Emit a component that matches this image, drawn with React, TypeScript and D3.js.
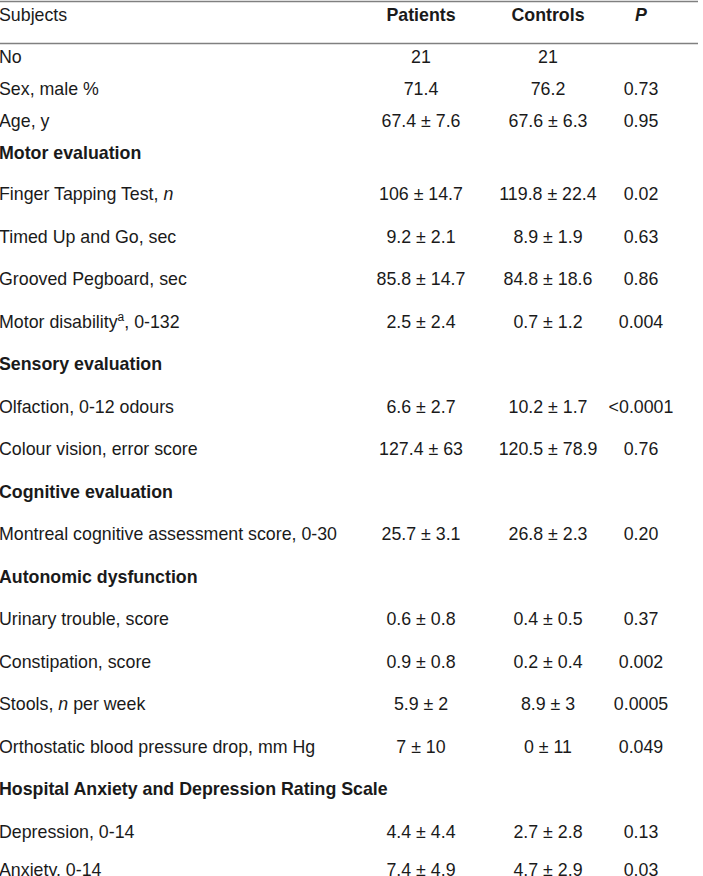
import React from "react";
import * as d3 from "d3";

const W = 703;
const H = 876;

// Row labels: |x| italic, ^x^ superscript
const rowLabels: string[] = [
  "No",
  "Sex, male %",
  "Age, y",
  "Motor evaluation",
  "Finger Tapping Test, |n|",
  "Timed Up and Go, sec",
  "Grooved Pegboard, sec",
  "Motor disability^a^, 0-132",
  "Sensory evaluation",
  "Olfaction, 0-12 odours",
  "Colour vision, error score",
  "Cognitive evaluation",
  "Montreal cognitive assessment score, 0-30",
  "Autonomic dysfunction",
  "Urinary trouble, score",
  "Constipation, score",
  "Stools, |n| per week",
  "Orthostatic blood pressure drop, mm Hg",
  "Hospital Anxiety and Depression Rating Scale",
  "Depression, 0-14",
  "Anxiety, 0-14",
];
const sectionRows: boolean[] = [
  false, false, false, true, false, false, false, false, true, false, false,
  true, false, true, false, false, false, false, true, false, false,
];
const patients: string[] = [
  "21", "71.4", "67.4 ± 7.6", "", "106 ± 14.7", "9.2 ± 2.1", "85.8 ± 14.7", "2.5 ± 2.4",
  "", "6.6 ± 2.7", "127.4 ± 63", "", "25.7 ± 3.1", "", "0.6 ± 0.8", "0.9 ± 0.8",
  "5.9 ± 2", "7 ± 10", "", "4.4 ± 4.4", "7.4 ± 4.9",
];
const controls: string[] = [
  "21", "76.2", "67.6 ± 6.3", "", "119.8 ± 22.4", "8.9 ± 1.9", "84.8 ± 18.6", "0.7 ± 1.2",
  "", "10.2 ± 1.7", "120.5 ± 78.9", "", "26.8 ± 2.3", "", "0.4 ± 0.5", "0.2 ± 0.4",
  "8.9 ± 3", "0 ± 11", "", "2.7 ± 2.8", "4.7 ± 2.9",
];
const pValues: string[] = [
  "", "0.73", "0.95", "", "0.02", "0.63", "0.86", "0.004", "", "<0.0001", "0.76", "",
  "0.20", "", "0.37", "0.002", "0.0005", "0.049", "", "0.13", "0.03",
];
const headers: string[] = ["Subjects", "Patients", "Controls", "P"];

function parseLabel(s: string) {
  const parts: { t: string; s: string }[] = [];
  const re = /(\|[^|]+\||\^[^^]+\^)/g;
  let last = 0;
  let m;
  while ((m = re.exec(s)) !== null) {
    if (m.index > last) parts.push({ t: s.slice(last, m.index), s: "" });
    const tok = m[0];
    parts.push({ t: tok.slice(1, -1), s: tok[0] === "|" ? "i" : "sup" });
    last = m.index + tok.length;
  }
  if (last < s.length) parts.push({ t: s.slice(last), s: "" });
  return parts;
}

export default function App() {
  const n = rowLabels.length;
  const y = d3
    .scaleLinear()
    .domain([0, 3, 4, n - 2, n - 1])
    .range([63, 159, 200, 838, 876]);
  const col = d3
    .scaleOrdinal<string, number>()
    .domain(["label", "patients", "controls", "p"])
    .range([-1, 421, 548, 641]);
  const font = "'Liberation Sans', Arial, sans-serif";
  const fs = 17.8;
  const fill = "#1a1a1a";

  return (
    <svg
      width={W}
      height={H}
      style={{ position: "absolute", left: 0, top: 0, background: "#fff" }}
      fontFamily={font}
      fontSize={fs}
    >
      <rect width={W} height={H} fill="#fff" />
      <line x1={0} x2={698} y1={1.5} y2={1.5} stroke="#808080" strokeWidth={1.5} />
      <line x1={0} x2={698} y1={43.5} y2={43.5} stroke="#808080" strokeWidth={1.5} />
      <text x={col("label")} y={21} fill={fill}>{headers[0]}</text>
      <text x={col("patients")} y={21} fill={fill} fontWeight="bold" textAnchor="middle">{headers[1]}</text>
      <text x={col("controls")} y={21} fill={fill} fontWeight="bold" textAnchor="middle">{headers[2]}</text>
      <text x={col("p")} y={21} fill={fill} fontWeight="bold" fontStyle="italic" textAnchor="middle">{headers[3]}</text>
      {rowLabels.map((lab, i) => {
        const parts = parseLabel(lab);
        return (
          <g key={i}>
            <text x={col("label")} y={y(i)} fill={fill} fontWeight={sectionRows[i] ? "bold" : "normal"}>
              {parts.map((p, j) =>
                p.s === "i" ? (
                  <tspan key={j} fontStyle="italic">{p.t}</tspan>
                ) : p.s === "sup" ? (
                  <tspan key={j} fontSize={12} dy={-7}>{p.t}</tspan>
                ) : (
                  <tspan key={j} dy={j > 0 && parts[j - 1].s === "sup" ? 7 : 0}>{p.t}</tspan>
                )
              )}
            </text>
            <text x={col("patients")} y={y(i)} fill={fill} textAnchor="middle">{patients[i]}</text>
            <text x={col("controls")} y={y(i)} fill={fill} textAnchor="middle">{controls[i]}</text>
            <text x={col("p")} y={y(i)} fill={fill} textAnchor="middle">{pValues[i]}</text>
          </g>
        );
      })}
    </svg>
  );
}
